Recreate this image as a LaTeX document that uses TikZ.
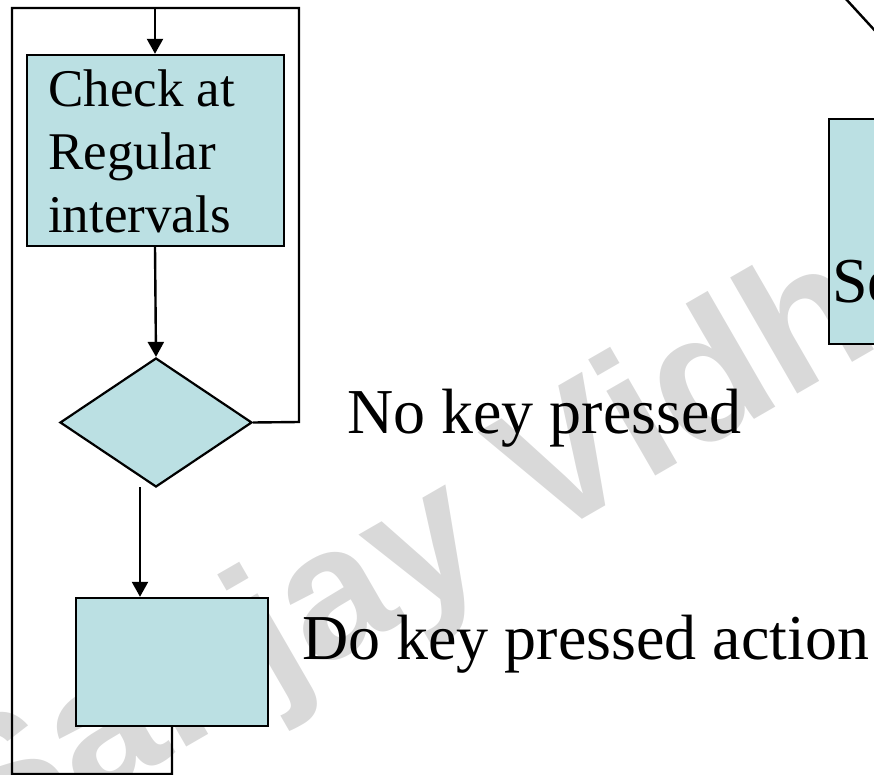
\documentclass[tikz,border=0pt]{standalone}
\usepackage{fontspec}
\setmainfont{Liberation Serif}
\newfontfamily\wmfont{Liberation Sans}
\usetikzlibrary{arrows.meta,shapes.geometric}
\definecolor{boxfill}{HTML}{BBE0E3}
\definecolor{wmgray}{HTML}{D9D9D9}
\tikzset{
  flowbox/.style={draw=black,line width=2.4pt,fill=boxfill,inner sep=0pt},
  decision/.style={diamond,draw=black,line width=2.2pt,fill=boxfill,inner sep=0pt,aspect=1.49},
  link/.style={line width=2.4pt,draw=black},
  arrowlink/.style={link,-{Triangle[width=16pt,length=15pt]}},
  biglabel/.style={font=\fontsize{64}{70}\selectfont,inner sep=0pt,anchor=base west},
  boxtext/.style={font=\fontsize{53}{63}\selectfont,inner sep=0pt,anchor=base west,align=left},
  watermark/.style={font=\wmfont\bfseries\fontsize{185}{185}\selectfont,text=wmgray,inner sep=0pt,anchor=base west}
}
\begin{document}
\begin{tikzpicture}[x=1pt,y=-1pt]
\useasboundingbox (0,0) rectangle (874,775);
\clip (0,0) rectangle (874,775);
% watermark behind everything
\node[watermark,rotate=30] (wm) at (-21,867) {Sanjay Vidh};
% process boxes
\node[flowbox,minimum width=257pt,minimum height=191pt] (chk) at (155.5,150.5) {};
% the last line of a multi-line node sits on its base anchor
\node[boxtext] (chktext) at (48,233) {Check at\\Regular\\intervals};
\node[decision,minimum width=192pt,minimum height=129pt] (dia) at (156,422.5) {};
\node[flowbox,minimum width=192pt,minimum height=128pt] (act) at (172,662) {};
\node[flowbox,minimum width=200pt,minimum height=225pt,anchor=north west] (svc) at (828,118) {};
\node[biglabel] (svctext) at (832,302) {Se};
% labels
\node[biglabel] (nokey) at (347,433) {No key pressed};
\node[biglabel] (dokey) at (302,659) {Do key pressed action};
% connector routing points
\coordinate (top) at (155,8);
\coordinate (tl) at (12,8);
\coordinate (tr) at (299,8);
\coordinate (bl) at (12,774);
\coordinate (br) at (172,774);
\coordinate (dstart) at (140,487);
\coordinate (diagA) at (845,-2);
\coordinate (diagB) at (900,58);
% connectors
\draw[link] (dia.east) -- (299,422) -- (tr) -- (tl) -- (bl) -- (br) -- (act.south -| br);
\draw[arrowlink] (top) -- (chk.north -| top);
\draw[arrowlink] (chk.south -| top) -- (dia.north);
\draw[arrowlink] (dstart) -- (act.north -| dstart);
\draw[link] (diagA) -- (diagB);
\end{tikzpicture}
\end{document}
